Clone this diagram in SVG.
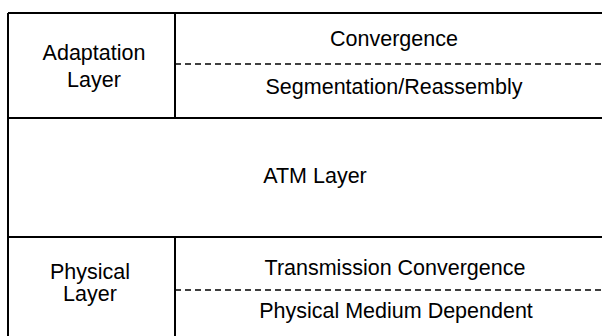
<svg xmlns="http://www.w3.org/2000/svg" width="602" height="336" viewBox="0 0 602 336">
<style>
.t{font-family:"Liberation Sans",Arial,Helvetica,sans-serif;font-size:21.5px;fill:#000;text-anchor:middle}
.s{stroke:#000;stroke-width:2;fill:none}
.d{stroke:#000;stroke-width:1.5;stroke-dasharray:6 4;fill:none}
</style>
<rect width="602" height="336" fill="#fff"/>
<g id="connectors">
<path class="s" d="M8,13 H602 M8,13 V336 M175,13 V118 M8,118 H602 M8,237 H602 M175,237 V336"/>
<path class="d" d="M175,64 H602 M175,290 H602"/>
</g>
<g id="adaptation-layer"><text class="t" x="94" y="60">Adaptation</text><text class="t" x="94" y="87">Layer</text></g>
<g id="convergence"><text class="t" x="394" y="46">Convergence</text></g>
<g id="segmentation-reassembly"><text class="t" x="394" y="94">Segmentation/Reassembly</text></g>
<g id="atm-layer"><text class="t" x="315" y="183">ATM Layer</text></g>
<g id="physical-layer"><text class="t" x="90" y="279">Physical</text><text class="t" x="90" y="301">Layer</text></g>
<g id="transmission-convergence"><text class="t" x="395" y="275">Transmission Convergence</text></g>
<g id="physical-medium-dependent"><text class="t" x="396" y="318">Physical Medium Dependent</text></g>
</svg>
